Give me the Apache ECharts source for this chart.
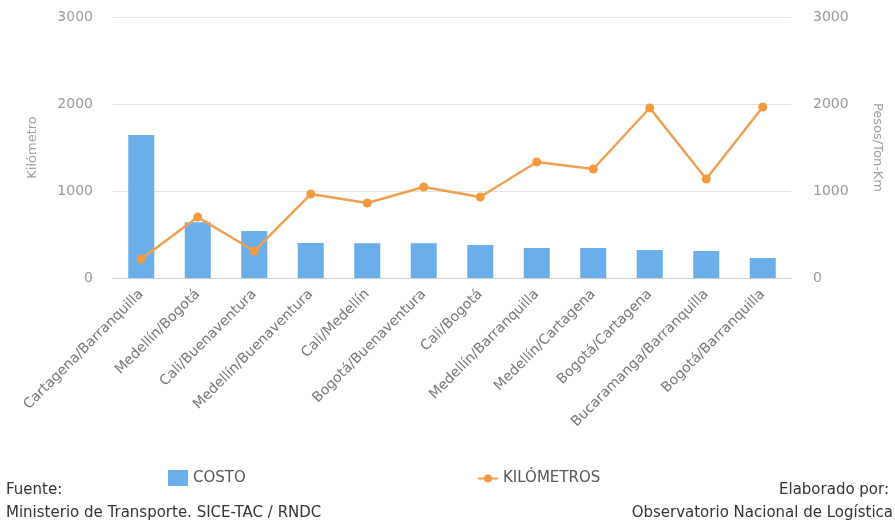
<!DOCTYPE html>
<html>
<head>
<meta charset="utf-8">
<script src="https://cdn.jsdelivr.net/npm/echarts@6/dist/echarts.min.js"></script>
<style>
  html, body { margin: 0; padding: 0; background: #fff; }
  #chart { width: 895px; height: 529px; }
</style>
</head>
<body>
<div id="chart"></div>
<script>
// Routes (origin/destination)
const categories = [
  'Cartagena/Barranquilla', 'Medellín/Bogotá', 'Cali/Buenaventura',
  'Medellín/Buenaventura', 'Cali/Medellín', 'Bogotá/Buenaventura',
  'Cali/Bogotá', 'Medellín/Barranquilla', 'Medellín/Cartagena',
  'Bogotá/Cartagena', 'Bucaramanga/Barranquilla', 'Bogotá/Barranquilla'
];
// Cost per ton-km (pesos)
const costo = [1645, 640, 540, 402, 400, 400, 380, 345, 345, 322, 310, 230];
// Route distance (km)
const kilometros = [218, 700, 310, 965, 862, 1046, 931, 1333, 1253, 1954, 1138, 1966];
// Shared axis ticks
const yTicks = [0, 1000, 2000, 3000];

const FONT = 'DejaVu Sans';
const chart = echarts.init(document.getElementById('chart'));

const yAxisBase = {
  type: 'value',
  min: yTicks[0],
  max: yTicks[yTicks.length - 1],
  interval: yTicks[1] - yTicks[0],
  axisLine: { show: false },
  axisTick: { show: false },
  nameLocation: 'middle',
  nameTextStyle: { color: '#a0a0a0', fontFamily: FONT, fontSize: 13 }
};
const plainNumber = v => String(v);

chart.setOption({
  animation: false,
  textStyle: { fontFamily: FONT },
  grid: { left: 113, right: 104, top: 17, bottom: 251 },
  legend: [
    {
      data: [{ name: 'COSTO', icon: 'rect' }], left: 163, top: 465,
      itemWidth: 20, itemHeight: 16, itemGap: 6,
      textStyle: { color: '#555', fontSize: 15, fontFamily: FONT }
    },
    {
      data: ['KILÓMETROS'], left: 472, top: 466, itemWidth: 20, itemHeight: 10,
      textStyle: { color: '#555', fontSize: 15, fontFamily: FONT }
    }
  ],
  xAxis: {
    type: 'category',
    data: categories,
    boundaryGap: true,
    axisLine: { lineStyle: { color: '#cfcfcf' } },
    axisTick: { length: 12, lineStyle: { color: '#cfcfcf' } },
    axisLabel: { rotate: 45, color: '#777', fontSize: 14, margin: 14, interval: 0 }
  },
  yAxis: [
    Object.assign({}, yAxisBase, {
      name: 'Kilómetro', nameGap: 74, nameRotate: 90,
      axisLabel: { color: '#999', fontSize: 14, margin: 20, formatter: plainNumber },
      splitLine: { lineStyle: { color: '#e3e3e3' } }
    }),
    Object.assign({}, yAxisBase, {
      name: 'Pesos/Ton-Km', nameGap: 80, nameRotate: -90,
      position: 'right',
      axisLabel: { color: '#999', fontSize: 14, margin: 22, formatter: plainNumber },
      splitLine: { show: false }
    })
  ],
  series: [
    {
      name: 'COSTO', type: 'bar', yAxisIndex: 1, data: costo,
      barWidth: 26,
      itemStyle: { color: '#6aafea' }
    },
    {
      name: 'KILÓMETROS', type: 'line', yAxisIndex: 0, data: kilometros,
      symbol: 'circle', symbolSize: 9,
      lineStyle: { color: '#f0a050', width: 2.5 },
      itemStyle: { color: '#f29a3c' }
    }
  ],
  graphic: [
    { type: 'text', left: 6, top: 483, style: { text: 'Fuente:', fill: '#333', font: '15px ' + FONT } },
    { type: 'text', left: 6, top: 506, style: { text: 'Ministerio de Transporte. SICE-TAC / RNDC', fill: '#333', font: '15px ' + FONT } },
    { type: 'text', right: 6, top: 483, style: { text: 'Elaborado por:', fill: '#333', font: '15px ' + FONT } },
    { type: 'text', right: 2, top: 506, style: { text: 'Observatorio Nacional de Logística', fill: '#333', font: '15px ' + FONT } }
  ]
});
</script>
</body>
</html>
